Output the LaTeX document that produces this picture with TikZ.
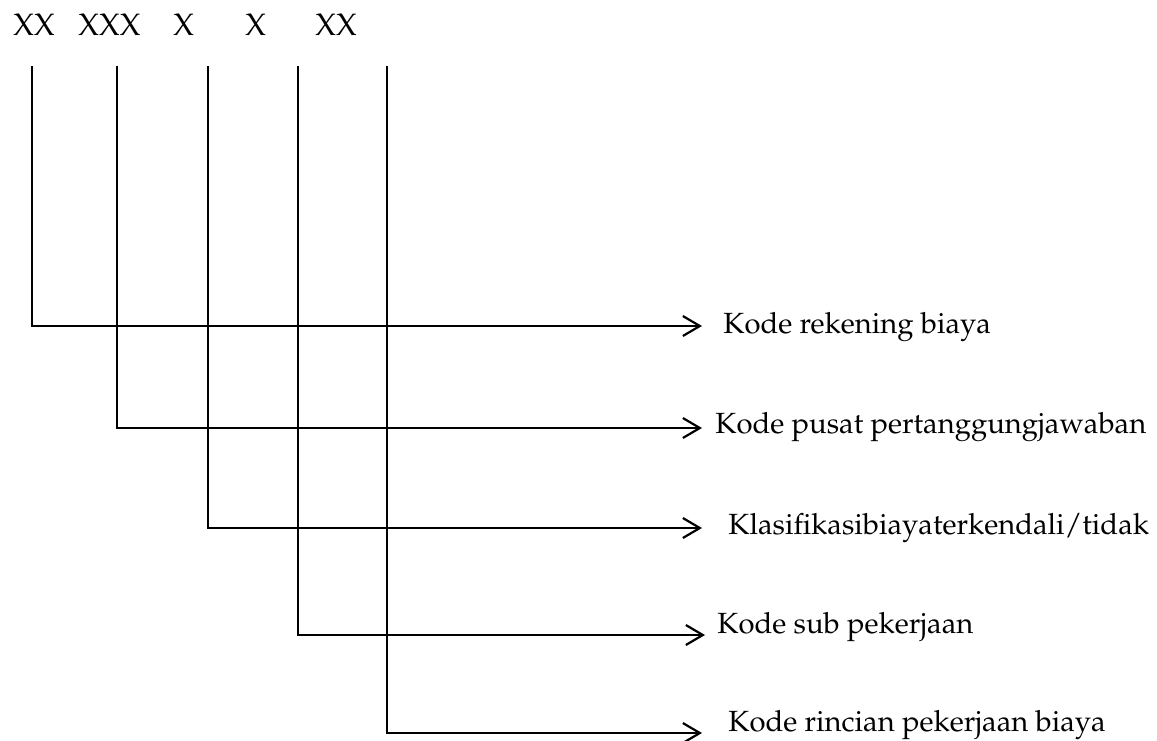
\documentclass[tikz,border=0pt]{standalone}
\usepackage[T1]{fontenc}
\usepackage{mathpazo}
\usepackage{tikz}
\usetikzlibrary{arrows.meta,positioning,calc}

\begin{document}
\begin{tikzpicture}[
    x=0.5pt, y=-0.5pt,
    code/.style={anchor=base west, inner sep=0pt, font=\fontsize{15.5}{18}\selectfont},
    lbl/.style={anchor=base west, inner sep=0pt, font=\fontsize{14.6}{17}\selectfont},
    link/.style={line width=1.15pt, -{Straight Barb[length=8.5pt,width=10pt,line width=1.1pt]}}
]
\useasboundingbox (0,0) rectangle (1157,740);

% Code digits
\node[code] (cRek) at (13,35) {XX};
\node[code] (cPus) at (78,35) {XXX};
\node[code] (cKla) at (173,35) {X};
\node[code] (cSub) at (245,35) {X};
\node[code] (cRin) at (315,35) {XX};

% Start of the vertical lines
\coordinate (sRek) at (32,66);
\coordinate (sPus) at (117,66);
\coordinate (sKla) at (208,66);
\coordinate (sSub) at (298,66);
\coordinate (sRin) at (387,66);

% Arrow tips
\coordinate (tRek) at (702,326);
\coordinate (tPus) at (702,428);
\coordinate (tKla) at (702,528);
\coordinate (tSub) at (705,635);
\coordinate (tRin) at (702,733);

% Descriptions
\node[lbl] (dRek) at (723,333) {Kode rekening biaya};
\node[lbl] (dPus) at (715,433) {Kode pusat pertanggungjawaban};
\node[lbl] (dKla) at (728,534) {Klasifikasibiayaterkendali/tidak};
\node[lbl] (dSub) at (717,633) {Kode sub pekerjaan};
\node[lbl] (dRin) at (728,731) {Kode rincian pekerjaan biaya};

% Connections
\draw[link] (sRek) |- (tRek);
\draw[link] (sPus) |- (tPus);
\draw[link] (sKla) |- (tKla);
\draw[link] (sSub) |- (tSub);
\draw[link] (sRin) |- (tRin);

\end{tikzpicture}
\end{document}
